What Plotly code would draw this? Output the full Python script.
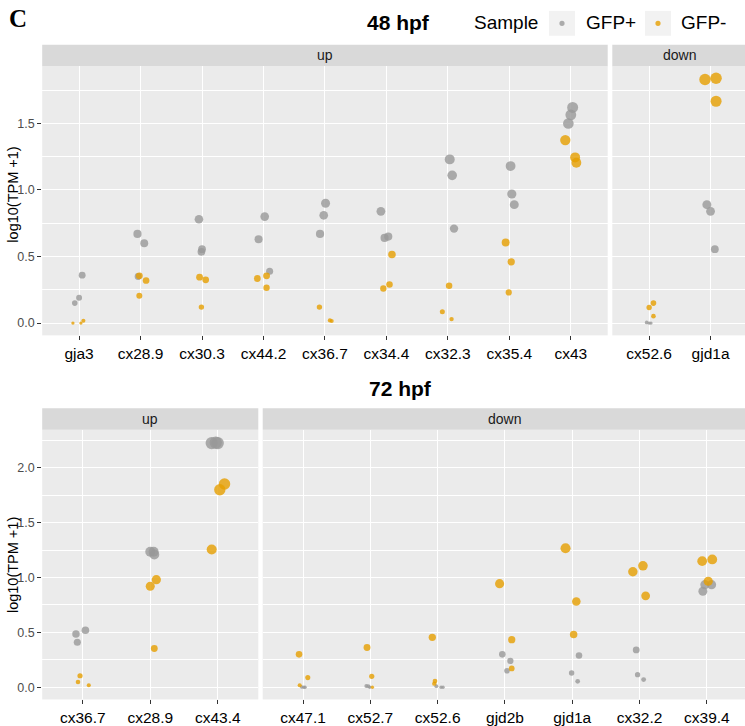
import math
import plotly.graph_objects as go

# ---------------- data ----------------
# 48 hpf, "up" facet
genes_48_up = ["gja3", "cx28.9", "cx30.3", "cx44.2", "cx36.7", "cx34.4", "cx32.3", "cx35.4", "cx43"]
pos_48_up = [[0.36, 0.19, 0.15], [0.67, 0.60, 0.35], [0.78, 0.555, 0.535], [0.80, 0.63, 0.39],
             [0.90, 0.81, 0.67], [0.84, 0.64, 0.65], [1.23, 1.11, 0.71], [1.18, 0.97, 0.89],
             [1.62, 1.565, 1.50]]
neg_48_up = [[0.0, 0.0, 0.017], [0.355, 0.32, 0.205], [0.345, 0.325, 0.12], [0.335, 0.355, 0.265],
             [0.12, 0.02, 0.015], [0.515, 0.26, 0.29], [0.28, 0.085, 0.03], [0.605, 0.46, 0.23],
             [1.375, 1.245, 1.205]]
jit_pos_48_up = [[0.05, 0.0, -0.07], [-0.05, 0.06, -0.04], [-0.05, 0.0, -0.01], [0.02, -0.08, 0.10],
                 [0.01, -0.02, -0.08], [-0.09, -0.03, 0.03], [0.03, 0.07, 0.10], [0.02, 0.04, 0.08],
                 [0.03, 0.0, -0.04]]
jit_neg_48_up = [[-0.10, 0.03, 0.07], [-0.02, 0.09, -0.02], [-0.04, 0.06, -0.01], [-0.10, 0.05, 0.05],
                 [-0.09, 0.08, 0.11], [0.09, -0.05, 0.05], [0.02, -0.09, 0.06], [-0.06, 0.03, -0.01],
                 [-0.09, 0.07, 0.09]]

# 48 hpf, "down" facet
genes_48_down = ["cx52.6", "gjd1a"]
pos_48_down = [[0.005, 0.0, 0.0], [0.89, 0.84, 0.555]]
neg_48_down = [[0.15, 0.117, 0.052], [1.83, 1.84, 1.667]]
jit_pos_48_down = [[-0.04, 0.0, 0.03], [-0.06, 0.0, 0.07]]
jit_neg_48_down = [[0.07, 0.0, 0.07], [-0.09, 0.09, 0.09]]

# 72 hpf, "up" facet
genes_72_up = ["cx36.7", "cx28.9", "cx43.4"]
pos_72_up = [[0.485, 0.52, 0.41], [1.235, 1.235, 1.21], [2.225, 2.23, 2.225]]
neg_72_up = [[0.105, 0.048, 0.018], [0.92, 0.98, 0.353], [1.852, 1.80, 1.255]]
jit_pos_72_up = [[-0.10, 0.04, -0.08], [0.0, 0.05, 0.06], [-0.09, -0.03, 0.0]]
jit_neg_72_up = [[-0.04, -0.07, 0.09], [0.0, 0.09, 0.06], [0.10, 0.03, -0.09]]

# 72 hpf, "down" facet
genes_72_down = ["cx47.1", "cx52.7", "cx52.6", "gjd2b", "gjd1a", "cx32.2", "cx39.4"]
pos_72_down = [[0.003, 0.0, 0.0], [0.012, 0.01, 0.0], [0.01, 0.0, 0.0], [0.30, 0.24, 0.15],
               [0.29, 0.13, 0.054], [0.34, 0.115, 0.07], [0.875, 0.935, 0.935]]
neg_72_down = [[0.30, 0.088, 0.018], [0.362, 0.10, 0.0], [0.455, 0.057, 0.033], [0.944, 0.434, 0.172],
               [1.267, 0.781, 0.48], [1.053, 1.107, 0.833], [1.149, 1.165, 0.966]]
jit_pos_72_down = [[-0.02, 0.01, 0.03], [-0.06, -0.03, -0.01], [-0.02, 0.05, 0.08], [-0.04, 0.08, 0.03],
                   [0.10, -0.01, 0.08], [-0.05, -0.03, 0.06], [-0.06, -0.03, 0.07]]
jit_neg_72_down = [[-0.06, 0.07, -0.05], [-0.05, 0.02, 0.03], [-0.08, -0.04, -0.05], [-0.08, 0.10, 0.10],
                   [-0.10, 0.06, 0.02], [-0.10, 0.05, 0.09], [-0.07, 0.08, 0.02]]

y_ticks_48 = [0.0, 0.5, 1.0, 1.5]
y_ticks_72 = [0.0, 0.5, 1.0, 1.5, 2.0]
sample_labels = ["GFP+", "GFP-"]

# ---------------- styling ----------------
W, H = 745, 726
GRAY = "#999999"
ORANGE = "#E69F00"
PANEL_BG = "#EBEBEB"
STRIP_BG = "#D9D9D9"
FONT = "Liberation Sans, Arial, Helvetica, sans-serif"


def px_x(p):
    return p / W


def px_y(p):
    return 1 - p / H


def diam(v):
    # point size grows with the value
    return 3.3 + 6.0 * math.sqrt(max(v, 0.0))


fig = go.Figure()

panels = [
    (genes_48_up, pos_48_up, neg_48_up, jit_pos_48_up, jit_neg_48_up, "x", "y"),
    (genes_48_down, pos_48_down, neg_48_down, jit_pos_48_down, jit_neg_48_down, "x2", "y2"),
    (genes_72_up, pos_72_up, neg_72_up, jit_pos_72_up, jit_neg_72_up, "x3", "y3"),
    (genes_72_down, pos_72_down, neg_72_down, jit_pos_72_down, jit_neg_72_down, "x4", "y4"),
]

for genes, pos, neg, jpos, jneg, xa, ya in panels:
    for vals, jits, color, name in ((pos, jpos, GRAY, sample_labels[0]), (neg, jneg, ORANGE, sample_labels[1])):
        xs, ys, ss, tx = [], [], [], []
        for i, g in enumerate(genes):
            for v, j in zip(vals[i], jits[i]):
                xs.append(i + j)
                ys.append(v)
                ss.append(diam(v))
                tx.append(g)
        fig.add_trace(go.Scatter(
            x=xs, y=ys, mode="markers", name=name, text=tx, showlegend=False,
            xaxis=xa, yaxis=ya, cliponaxis=False,
            marker=dict(color=color, size=ss, opacity=0.8, line=dict(width=0)),
            hovertemplate="%{text}: %{y:.2f}<extra>" + name + "</extra>",
        ))

# axis geometry (pixels)
TOP_Y0, TOP_Y1 = 66.7, 337.7
BOT_Y0, BOT_Y1 = 432.7, 704.3
LEFT = 42.2

common_x = dict(showgrid=True, gridcolor="white", gridwidth=1.1, zeroline=False,
                ticks="outside", ticklen=4, tickwidth=1.1, tickcolor="#333333",
                tickfont=dict(family=FONT, size=15.5, color="#000000"), showline=False,
                fixedrange=True)
common_y = dict(showgrid=True, gridcolor="white", gridwidth=1.1, zeroline=False, showline=False,
                minor=dict(showgrid=True, gridcolor="white", gridwidth=0.6, dtick=0.25, tick0=0),
                fixedrange=True)

top_up_px = 61.4
bot_px = 67.3

layout_axes = dict(
    xaxis=dict(common_x, domain=[px_x(LEFT), px_x(607.7)], range=[-0.6, len(genes_48_up) - 0.4],
               tickvals=list(range(len(genes_48_up))), ticktext=genes_48_up, anchor="y"),
    xaxis2=dict(common_x, domain=[px_x(612.3), 1.0],
                range=[-0.6, -0.6 + (W - 612.3) / top_up_px],
                tickvals=list(range(len(genes_48_down))), ticktext=genes_48_down, anchor="y2"),
    xaxis3=dict(common_x, domain=[px_x(LEFT), px_x(258.3)], range=[-0.6, len(genes_72_up) - 0.4],
                tickvals=list(range(len(genes_72_up))), ticktext=genes_72_up, anchor="y3"),
    xaxis4=dict(common_x, domain=[px_x(262.7), 1.0],
                range=[-0.6, -0.6 + (W - 262.7) / bot_px],
                tickvals=list(range(len(genes_72_down))), ticktext=genes_72_down, anchor="y4"),
    yaxis=dict(common_y, domain=[px_y(TOP_Y1), px_y(TOP_Y0)], range=[-0.0925, 1.93], anchor="x",
               tickvals=y_ticks_48, ticktext=[f"{t:.1f}" for t in y_ticks_48],
               ticks="outside", ticklen=4, tickwidth=1.1, tickcolor="#333333",
               tickfont=dict(family=FONT, size=12.5, color="#4D4D4D")),
    yaxis2=dict(common_y, domain=[px_y(TOP_Y1), px_y(TOP_Y0)], range=[-0.0925, 1.93], anchor="x2",
                tickvals=y_ticks_48, showticklabels=False, ticks=""),
    yaxis3=dict(common_y, domain=[px_y(BOT_Y1), px_y(BOT_Y0)], range=[-0.111, 2.347], anchor="x3",
                tickvals=y_ticks_72, ticktext=[f"{t:.1f}" for t in y_ticks_72],
                ticks="outside", ticklen=4, tickwidth=1.1, tickcolor="#333333",
                tickfont=dict(family=FONT, size=12.5, color="#4D4D4D")),
    yaxis4=dict(common_y, domain=[px_y(BOT_Y1), px_y(BOT_Y0)], range=[-0.111, 2.347], anchor="x4",
                tickvals=y_ticks_72, showticklabels=False, ticks=""),
)

shapes = []
annotations = []

# strips
strips = [
    (LEFT, 607.7, 45.0, TOP_Y0, "up"),
    (612.3, W, 45.0, TOP_Y0, "down"),
    (LEFT, 258.3, 411.0, BOT_Y0, "up"),
    (262.7, W, 411.0, BOT_Y0, "down"),
]
strip_centers = [(LEFT + 607.7) / 2, (612.3 + 612.3 + 2.2 * top_up_px) / 2,
                 (LEFT + 258.3) / 2, (262.7 + 262.7 + 7.2 * bot_px) / 2]
for (x0, x1, y0, y1, lab), cx in zip(strips, strip_centers):
    shapes.append(dict(type="rect", xref="paper", yref="paper", x0=px_x(x0), x1=px_x(x1),
                       y0=px_y(y1), y1=px_y(y0), fillcolor=STRIP_BG, line=dict(width=0), layer="below"))
    annotations.append(dict(text=lab, xref="paper", yref="paper", x=px_x(cx), y=px_y((y0 + y1) / 2),
                            showarrow=False, xanchor="center", yanchor="middle",
                            font=dict(family=FONT, size=14, color="#1A1A1A")))

# titles
annotations.append(dict(text="<b>C</b>", xref="paper", yref="paper", x=px_x(7), y=px_y(19),
                        showarrow=False, xanchor="left", yanchor="middle",
                        font=dict(family="Liberation Serif, Times New Roman, serif", size=25, color="#000000")))
annotations.append(dict(text="<b>48 hpf</b>", xref="paper", yref="paper", x=px_x(398.7), y=px_y(23),
                        showarrow=False, xanchor="center", yanchor="middle",
                        font=dict(family=FONT, size=21, color="#000000")))
annotations.append(dict(text="<b>72 hpf</b>", xref="paper", yref="paper", x=px_x(400.5), y=px_y(391),
                        showarrow=False, xanchor="center", yanchor="middle",
                        font=dict(family=FONT, size=21, color="#000000")))

# y axis titles
for yc in (196, 569):
    annotations.append(dict(text="log10(TPM +1)", xref="paper", yref="paper", x=px_x(13), y=px_y(yc),
                            showarrow=False, textangle=-90, xanchor="center", yanchor="middle",
                            font=dict(family=FONT, size=14.5, color="#000000")))

# legend (manual)
annotations.append(dict(text="Sample", xref="paper", yref="paper", x=px_x(472), y=px_y(23),
                        showarrow=False, xanchor="left", yanchor="middle",
                        font=dict(family=FONT, size=19, color="#000000")))
legend_items = [(549, 575, GRAY, sample_labels[0], 584), (645, 671, ORANGE, sample_labels[1], 679)]
for bx0, bx1, col, lab, tx in legend_items:
    shapes.append(dict(type="rect", xref="paper", yref="paper", x0=px_x(bx0), x1=px_x(bx1),
                       y0=px_y(36), y1=px_y(11), fillcolor="#F2F2F2", line=dict(width=0)))
    cxk, cyk = (bx0 + bx1) / 2, 23.5
    shapes.append(dict(type="circle", xref="paper", yref="paper",
                       x0=px_x(cxk - 2.6), x1=px_x(cxk + 2.6), y0=px_y(cyk + 2.6), y1=px_y(cyk - 2.6),
                       fillcolor=col, opacity=0.8, line=dict(width=0)))
    annotations.append(dict(text=lab, xref="paper", yref="paper", x=px_x(tx), y=px_y(23),
                            showarrow=False, xanchor="left", yanchor="middle",
                            font=dict(family=FONT, size=19, color="#000000")))

fig.update_layout(
    width=W, height=H,
    margin=dict(l=0, r=0, t=0, b=0),
    paper_bgcolor="white",
    plot_bgcolor=PANEL_BG,
    showlegend=False,
    shapes=shapes,
    annotations=annotations,
    font=dict(family=FONT),
    **layout_axes,
)

fig.write_html("out.html", config={"displayModeBar": False},
               post_script="document.body.style.margin='0';document.body.style.overflow='hidden';")
